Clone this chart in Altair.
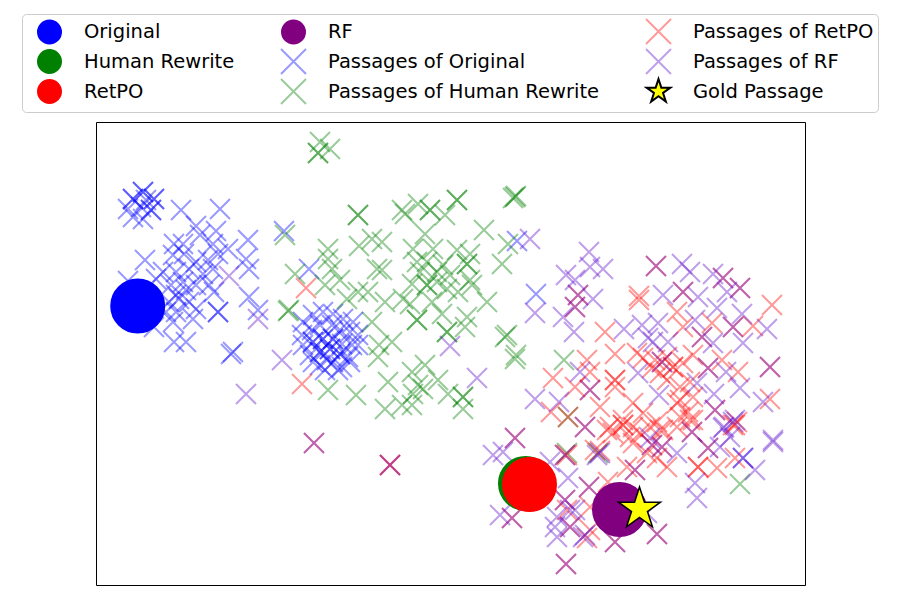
import altair as alt
import pandas as pd

series_names = ["Original", "Human Rewrite", "RetPO", "RF", "Passages of Original",
                "Passages of Human Rewrite", "Passages of RetPO", "Passages of RF", "Gold Passage"]
fill_colors = ["#0000ff", "#008000", "#ff0000", "#800080", "rgba(0,0,255,0.4)", "rgba(0,128,0,0.4)", "rgba(255,0,0,0.4)", "rgba(96,16,204,0.4)", "#ffff00"]
stroke_colors = ["#0000ff", "#008000", "#ff0000", "#800080", "rgba(0,0,255,0.4)", "rgba(0,128,0,0.4)", "rgba(255,0,0,0.4)", "rgba(96,16,204,0.4)", "#000000"]

CIRCLE = "M-0.92,0A0.92,0.92,0,1,1,0.92,0A0.92,0.92,0,1,1,-0.92,0Z"
CROSS = "M-1,-1L1,1M-1,1L1,-1"
STAR = "M0,-1L.225,-.309L.951,-.309L.363,.118L.588,.809L0,.382L-.588,.809L-.363,.118L-.951,-.309L-.225,-.309Z"
shapes = [CIRCLE, CIRCLE, CIRCLE, CIRCLE, CROSS, CROSS, CROSS, CROSS, STAR]

query_points = [("Original", 137.7, 306), ("Human Rewrite", 525.5, 483.5), ("RetPO", 529.5, 484.5), ("RF", 619.5, 509.5)]
gold_points = [("Gold Passage", 639.5, 509)]

passages_original = [
    (133,199),(143,192),(154,199),(151,210),(128,209),(133,217),(143,219),(141,207),(146,200),(181,210),(220,209),
    (133,199),(143,192),(154,199),(151,210),
    (196,226),(216,231),(200,235),(248,240),(174,244),(183,244),(228,249),(213,244),(145,260),(246,259),(249,269),
    (284,231),(309,269),(173,255),(184,254),(196,262),(208,260),(218,254),(163,272),(176,272),(189,269),(203,274),
    (213,269),(156,279),(128,281),(171,285),(183,282),(196,285),(209,285),(214,292),(249,297),(258,310),(218,312),
    (218,312),(176,295),(186,290),(179,299),(169,302),(189,302),(196,309),(176,312),(166,312),(193,319),(173,322),
    (154,327),(174,342),(186,342),(233,352),(231,354),
    (303,322),(313,315),(323,312),(333,314),(343,319),(353,322),(302,335),(312,330),(320,325),(332,325),(340,330),
    (350,332),(358,335),(303,345),(313,342),(323,339),(333,339),(342,344),(352,345),(310,355),(320,352),(330,349),
    (340,354),(348,357),(320,365),(327,360),(333,362),(342,367),(350,362),(313,362),(325,370),(338,370),(358,345),
    (323,339),(333,339),(320,352),(330,349),(313,342),(340,354),
    (517,241),(536,294),(743,458),
]
passages_rewrite = [
    (320,142),(330,149),(318,153),(318,153),(358,215),(358,215),(402,210),(405,214),(418,204),(430,210),(430,210),
    (445,215),(457,200),(457,200),(515,197),(513,198),(516,196),(484,230),(425,234),(285,235),(508,244),(502,264),
    (328,249),(328,259),(359,246),(372,239),(382,242),(413,249),(433,249),(457,250),(470,254),(467,264),(467,264),
    (417,262),(427,262),(377,269),(382,270),(295,274),(332,269),(340,280),(325,285),(412,284),(420,272),(437,272),
    (443,265),(450,275),(427,285),(427,285),(437,282),(470,280),(458,292),(447,289),(472,285),(347,299),(358,292),
    (368,292),(385,302),(403,299),(410,304),(432,302),(487,302),(289,310),(288,311),(442,314),(372,322),(417,320),
    (417,320),(447,332),(447,332),(467,317),(465,327),(392,342),(379,345),(378,357),(507,335),(505,337),(516,355),
    (515,359),(388,382),(412,372),(425,365),(438,380),(418,385),(423,389),(413,394),(448,394),(463,397),(463,397),
    (463,409),(385,409),(402,405),(412,405),(328,390),(356,395),(567,453),(598,453),(740,484),(564,360),(568,417),
]
passages_retpo = [
    (639,296),(639,300),(605,332),(615,354),(677,312),(683,327),(712,323),(753,326),(772,305),(587,360),(553,378),
    (590,372),(575,387),(615,380),(615,380),(615,387),(551,412),(568,417),(643,358),(655,360),(667,357),(673,367),
    (673,367),(683,363),(693,355),(722,360),(738,372),(637,353),(660,373),(652,368),(667,380),(690,382),(680,387),
    (693,397),(680,400),(600,407),(633,403),(643,413),(657,422),(623,420),(633,427),(623,425),(623,425),(677,403),
    (680,417),(688,412),(693,420),(733,425),(737,422),(770,399),(613,433),(630,437),(660,430),(610,427),(600,451),
    (567,455),(640,433),(650,427),(633,443),(663,430),(677,427),(690,420),(647,453),(627,467),(667,467),(657,458),
    (698,467),(698,467),(717,468),(735,425),(735,458),(608,482),(595,450),(590,507),(567,510),(587,538),(590,530),
    (607,430),(306,288),(302,384),
    # overlaps of RetPO and RF
    (578,295),(575,307),(656,266),(723,278),(740,288),(683,292),(733,327),(702,337),(770,367),(708,368),(662,362),
    (590,390),(715,410),(585,427),(692,432),(515,438),(589,487),(565,500),(570,527),(512,518),(566,564),(615,542),
    (657,534),(635,470),(652,445),(662,447),(708,448),(314,443),(390,465),(565,455),(390,465),
]
passages_rf = [
    (589,252),(590,267),(603,269),(566,275),(575,280),(578,295),(593,299),(575,307),(563,317),(574,332),(535,313),
    (656,266),(682,264),(690,272),(713,274),(723,278),(740,288),(727,292),(683,292),(663,295),(698,297),(717,308),
    (742,314),(733,327),(767,329),(695,320),(658,323),(642,325),(624,329),(702,337),(713,343),(743,343),(648,338),
    (653,342),(668,342),(770,367),(708,368),(726,372),(740,388),(714,394),(763,402),(662,362),(638,373),(580,372),
    (535,399),(559,402),(659,395),(590,390),(715,410),(697,383),(585,427),(692,432),(723,428),(733,422),(773,440),
    (650,438),(730,437),(515,438),(493,455),(503,452),(550,462),(565,455),(597,455),(568,478),(589,487),(565,500),
    (557,517),(570,510),(575,510),(555,527),(570,527),(585,535),(557,537),(583,537),(512,518),(500,515),(566,564),
    (615,542),(657,534),(647,513),(635,470),(652,445),(662,447),(677,453),(708,448),(720,447),(724,427),(735,420),
    (773,442),(743,458),(755,470),(695,483),(697,498),(600,453),(229,276),(258,319),(282,360),(246,394),(530,239),
    (450,346),(477,378),(314,443),(390,465),
]

def frame(points, name):
    return pd.DataFrame({"series": name, "x": [p[0] for p in points], "y": [p[1] for p in points]})

crosses = pd.concat([
    frame(passages_original, "Passages of Original"),
    frame(passages_rewrite, "Passages of Human Rewrite"),
    frame(passages_retpo, "Passages of RetPO"),
    frame(passages_rf, "Passages of RF"),
], ignore_index=True)
crosses["order"] = crosses["series"].map({n: i for i, n in enumerate(series_names)})
queries = pd.DataFrame(query_points, columns=["series", "x", "y"])
gold = pd.DataFrame(gold_points, columns=["series", "x", "y"])

x_enc = alt.X("x:Q", scale=alt.Scale(domain=[96, 805], nice=False, zero=False), axis=None)
y_enc = alt.Y("y:Q", scale=alt.Scale(domain=[585, 122], nice=False, zero=False), axis=None)
legend = alt.Legend(
    title=None, orient="none", legendX=-74, legendY=-108, direction="vertical", columns=3,
    symbolSize=625, symbolStrokeWidth=2, symbolOffset=10, labelFont="DejaVu Sans", labelFontSize=19.5, labelColor="black",
    labelOffset=21, columnPadding=35, rowPadding=-7, padding=4, fillColor="white", strokeColor="#cccccc",
    cornerRadius=4, labelLimit=400,
)
enc = dict(
    x=x_enc, y=y_enc,
    fill=alt.Fill("series:N", scale=alt.Scale(domain=series_names, range=fill_colors), legend=legend),
    stroke=alt.Stroke("series:N", scale=alt.Scale(domain=series_names, range=stroke_colors), legend=legend),
    shape=alt.Shape("series:N", scale=alt.Scale(domain=series_names, range=shapes), legend=legend),
)

cross_layer = alt.Chart(crosses).mark_point(filled=True, size=400, strokeWidth=2, opacity=1).encode(
    order=alt.Order("order:Q"), **enc)
query_layer = alt.Chart(queries).mark_point(filled=True, size=3318, strokeWidth=2, opacity=1).encode(**enc)
gold_layer = alt.Chart(gold).mark_point(filled=True, size=1936, strokeWidth=1.5, opacity=1).encode(**enc)

chart = (cross_layer + query_layer + gold_layer).properties(
    width=709, height=463,
    autosize=alt.AutoSizeParams(type="none"),
    padding={"left": 88, "top": 114, "right": 85, "bottom": 5},
).configure_view(stroke="black", strokeWidth=1)

chart.save("out.html", embed_options={"renderer": "svg", "actions": False})
